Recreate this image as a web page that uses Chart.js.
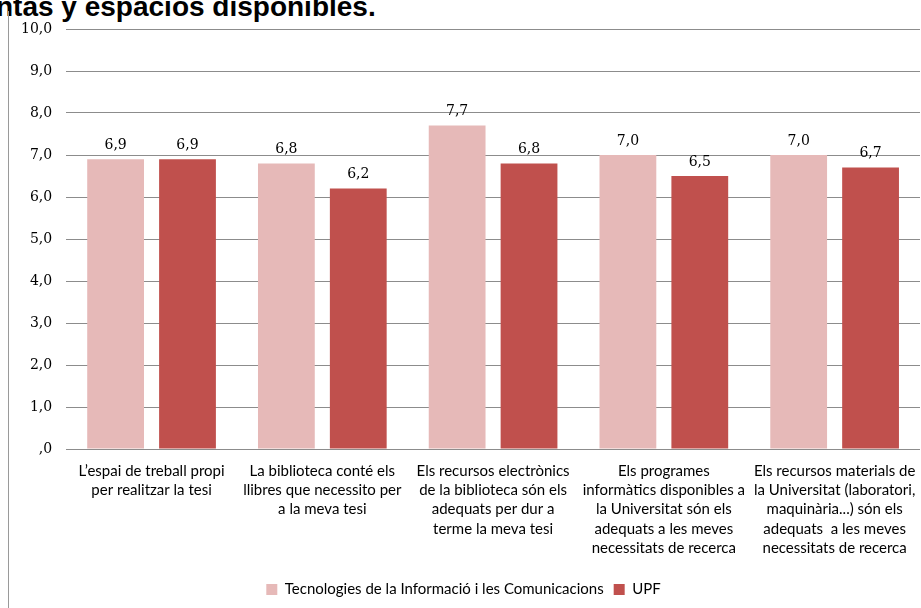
<!DOCTYPE html>
<html>
<head>
<meta charset="utf-8">
<script src="https://cdn.jsdelivr.net/npm/chart.js@4"></script>
<style>
  html, body { margin: 0; padding: 0; background: #fff; overflow: hidden; }
  #wrap { position: relative; width: 921px; height: 608px; }
  #title {
    position: absolute; left: -4px; top: -9px; white-space: nowrap; line-height: 28px;
    font: bold 28px "Liberation Sans", Arial, sans-serif; color: #000;
  }
  #frame { position: absolute; left: 8px; top: 11px; width: 0; height: 597px; border-left: 1px solid #9a9a9a; }
  canvas { position: absolute; left: 0; top: 0; }
</style>
</head>
<body>
<div id="wrap">
  <div id="title">ntas y espacios disponibles.</div>
  <div id="frame"></div>
  <canvas id="chart" width="921" height="608"></canvas>
</div>
<script>
const categories = [
  ["L\u2019espai de treball propi", "per realitzar la tesi"],
  ["La biblioteca cont\u00e9 els", "llibres que necessito per", "a la meva tesi"],
  ["Els recursos electr\u00f2nics", "de la biblioteca s\u00f3n els", "adequats per dur a", "terme la meva tesi"],
  ["Els programes", "inform\u00e0tics disponibles a", "la Universitat s\u00f3n els", "adequats a les meves", "necessitats de recerca"],
  ["Els recursos materials de", "la Universitat (laboratori,", "maquin\u00e0ria...) s\u00f3n els", "adequats  a les meves", "necessitats de recerca"]
];
const seriesNames = ["Tecnologies de la Informaci\u00f3 i les Comunicacions", "UPF"];
const ticValues = [6.9, 6.8, 7.7, 7.0, 7.0];
const upfValues = [6.9, 6.2, 6.8, 6.5, 6.7];
const seriesColors = ["#e6b9b8", "#c0504d"];

const serif = '"DejaVu Serif", "Liberation Serif", serif';
const sans = 'Lato, "Open Sans", sans-serif';

const fmt = v => {
  const s = v.toFixed(1).replace(".", ",");
  return s.startsWith("0,") ? s.slice(1) : s;
};

// value labels above every bar
const valueLabels = {
  id: "valueLabels",
  afterDatasetsDraw(chart) {
    const ctx = chart.ctx;
    ctx.save();
    ctx.font = "14px " + serif;
    ctx.fillStyle = "#000";
    ctx.textAlign = "center";
    ctx.textBaseline = "bottom";
    chart.data.datasets.forEach((ds, i) => {
      chart.getDatasetMeta(i).data.forEach((bar, j) => {
        ctx.fillText(fmt(ds.data[j]), bar.x, bar.y - 7);
      });
    });
    ctx.restore();
  }
};

new Chart(document.getElementById("chart"), {
  type: "bar",
  data: {
    labels: categories,
    datasets: [
      { label: seriesNames[0], data: ticValues, backgroundColor: seriesColors[0] },
      { label: seriesNames[1], data: upfValues, backgroundColor: seriesColors[1] }
    ]
  },
  options: {
    responsive: false,
    animation: false,
    layout: { padding: { top: 29, right: 1, left: 7, bottom: 1 } },
    datasets: { bar: { categoryPercentage: 0.842, barPercentage: 0.79 } },
    plugins: {
      legend: {
        position: "bottom",
        labels: {
          boxWidth: 11, boxHeight: 11, padding: 10, color: "#000",
          font: { family: sans, size: 15 }
        }
      },
      tooltip: { enabled: false }
    },
    scales: {
      x: {
        grid: { display: false },
        border: { display: false },
        afterFit(scale) {
          // the last label is clipped by the frame, as in the original
          scale.paddingLeft = 0;
          scale.paddingRight = 0;
          scale.height = 123;
        },
        ticks: {
          color: "#000", maxRotation: 0, autoSkip: false, padding: 4,
          font: { family: sans, size: 15, lineHeight: 1.29 }
        }
      },
      y: {
        min: 0, max: 10,
        grid: { color: "#8c8c8c", drawTicks: false },
        border: { display: false },
        ticks: {
          stepSize: 1, padding: 14, color: "#000",
          font: { family: serif, size: 14 },
          callback: v => fmt(v)
        }
      }
    }
  },
  plugins: [valueLabels]
});
</script>
</body>
</html>
